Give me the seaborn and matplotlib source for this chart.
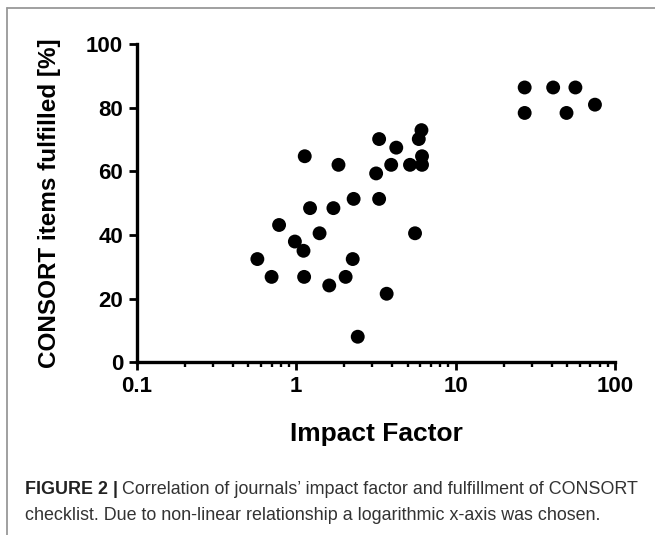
import matplotlib
matplotlib.use('Agg')
import matplotlib.pyplot as plt
import seaborn as sns
import pandas as pd
from matplotlib.lines import Line2D
from matplotlib.ticker import FixedLocator, FixedFormatter, LogLocator, NullFormatter

# values (impact factor, % CONSORT items fulfilled)
impact_factor = [0.57, 0.70, 0.78, 0.98, 1.11, 1.12, 1.13, 1.22, 1.40, 1.61,
                 1.71, 1.84, 2.04, 2.26, 2.29, 2.43, 3.17, 3.31, 3.31, 3.69,
                 3.94, 4.24, 5.17, 5.56, 5.87, 6.10, 6.15, 6.15,
                 27.1, 27.1, 40.9, 49.6, 56.4, 74.8]
consort_pct = [32.4, 26.8, 43.1, 37.9, 35.0, 26.8, 64.7, 48.4, 40.5, 24.1,
               48.4, 62.0, 26.8, 32.4, 51.3, 8.0, 59.3, 70.1, 51.3, 21.5,
               62.0, 67.4, 62.0, 40.5, 70.1, 72.9, 64.7, 62.0,
               86.3, 78.3, 86.3, 78.3, 86.3, 80.9]

x_ticks = [0.1, 1, 10, 100]
x_tick_labels = ['0.1', '1', '10', '100']
y_ticks = [0, 20, 40, 60, 80, 100]

df = pd.DataFrame({'Impact Factor': impact_factor, 'CONSORT': consort_pct})

sns.set_style('ticks')
plt.rcParams['font.family'] = ['Liberation Sans', 'DejaVu Sans']
plt.rcParams['text.color'] = 'black'
plt.rcParams['axes.labelcolor'] = 'black'
plt.rcParams['xtick.color'] = 'black'
plt.rcParams['ytick.color'] = 'black'

fig = plt.figure(figsize=(6.55, 5.35), dpi=100)
ax = fig.add_axes([0.209, 0.323, 0.730, 0.595])

sns.scatterplot(data=df, x='Impact Factor', y='CONSORT', color='black',
                s=100, edgecolor='none', ax=ax, clip_on=False, zorder=3)

ax.set_xscale('log')
ax.set_xlim(0.1, 100)
ax.set_ylim(0, 100)

ax.xaxis.set_major_locator(FixedLocator(x_ticks))
ax.xaxis.set_major_formatter(FixedFormatter(x_tick_labels))
ax.xaxis.set_minor_locator(LogLocator(base=10, subs=range(2, 10)))
ax.xaxis.set_minor_formatter(NullFormatter())
ax.set_yticks(y_ticks)

sns.despine(ax=ax)
for side in ['left', 'bottom']:
    ax.spines[side].set_linewidth(2.4)
    ax.spines[side].set_color('black')

ax.tick_params(axis='both', which='major', length=6, width=2, color='black',
               labelsize=16, pad=4, labelcolor='black')
ax.tick_params(axis='x', which='minor', length=3.5, width=1.7, color='black')
for lbl in ax.get_xticklabels() + ax.get_yticklabels():
    lbl.set_fontweight('bold')

ax.set_xlabel('Impact Factor', fontsize=19, fontweight='bold', labelpad=18)
ax.set_ylabel('CONSORT items fulfilled [%]', fontsize=17.5, fontweight='bold', labelpad=18)

# gray frame lines (top and left) like the journal figure box
fig.add_artist(Line2D([7 / 655, 1], [1 - 8 / 535, 1 - 8 / 535], color='#999999', lw=1.3))
fig.add_artist(Line2D([7 / 655, 7 / 655], [0, 1 - 8 / 535], color='#999999', lw=1.3))

# caption with bold lead-in
renderer = fig.canvas.get_renderer()
y1 = 1 - 490 / 535
y2 = 1 - 515 / 535
t1 = fig.text(25 / 655, y1, 'FIGURE 2 |', fontsize=12.9, fontweight='bold',
              color='#222222', va='center')
bb = t1.get_window_extent(renderer=renderer)
fig.text((bb.x1 + 4) / 655, y1,
         'Correlation of journals\u2019 impact factor and fulfillment of CONSORT',
         fontsize=12.9, color='#333333', va='center')
fig.text(25 / 655, y2,
         'checklist. Due to non-linear relationship a logarithmic x-axis was chosen.',
         fontsize=12.9, color='#333333', va='center')

fig.savefig('out.png', dpi=100)
